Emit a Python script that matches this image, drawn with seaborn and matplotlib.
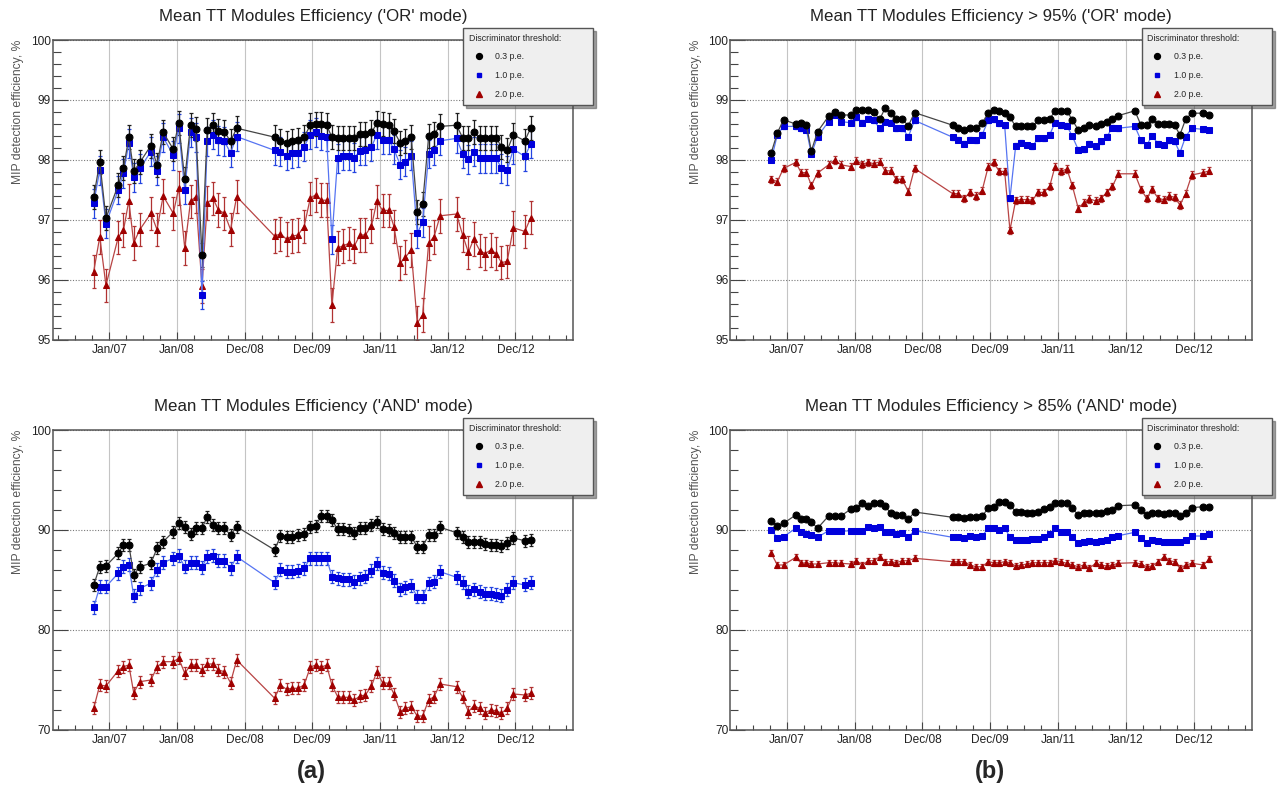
import matplotlib
matplotlib.use("Agg")
import matplotlib.pyplot as plt
from matplotlib.lines import Line2D
from matplotlib.ticker import FixedLocator, MultipleLocator, AutoMinorLocator
import seaborn as sns

dates = [2006.771, 2006.861, 2006.952, 2007.133, 2007.211, 2007.290, 2007.362, 2007.453,
         2007.616, 2007.706, 2007.797, 2007.947, 2008.026, 2008.116, 2008.201, 2008.279,
         2008.370, 2008.448, 2008.533, 2008.611, 2008.702, 2008.792, 2008.883,
         2009.444, 2009.529, 2009.619, 2009.698, 2009.788, 2009.879, 2009.969, 2010.048,
         2010.132, 2010.211, 2010.289, 2010.374, 2010.452, 2010.543, 2010.621, 2010.705,
         2010.784, 2010.874, 2010.953, 2011.037, 2011.128, 2011.206, 2011.297, 2011.375,
         2011.460, 2011.550, 2011.629, 2011.719, 2011.798, 2011.888, 2012.130, 2012.220,
         2012.305, 2012.383, 2012.474, 2012.552, 2012.637, 2012.715, 2012.794, 2012.878,
         2012.969, 2013.138, 2013.228]

xtick_pos = [2007, 2008, 2009, 2010, 2011, 2012, 2013]
xtick_labels = ["Jan/07", "Jan/08", "Dec/08", "Dec/09", "Jan/11", "Jan/12", "Dec/12"]
thresholds = ["0.3 p.e.", "1.0 p.e.", "2.0 p.e."]

# ('OR' mode)
or_03 = [97.38, 97.97, 97.03, 97.58, 97.86, 98.38, 97.81, 97.96, 98.24, 97.92, 98.46, 98.18,
         98.62, 97.68, 98.59, 98.52, 96.42, 98.50, 98.58, 98.49, 98.47, 98.31, 98.53,
         98.38, 98.32, 98.29, 98.32, 98.34, 98.38, 98.58, 98.60, 98.60, 98.58, 98.38, 98.37,
         98.37, 98.37, 98.37, 98.44, 98.44, 98.46, 98.61, 98.60, 98.59, 98.48, 98.29, 98.31,
         98.39, 97.14, 97.27, 98.40, 98.44, 98.56, 98.58, 98.37, 98.37, 98.46, 98.37, 98.37,
         98.37, 98.37, 98.22, 98.16, 98.42, 98.32, 98.54]
or_10 = [97.28, 97.83, 96.94, 97.50, 97.78, 98.28, 97.71, 97.86, 98.14, 97.82, 98.38, 98.08,
         98.53, 97.50, 98.46, 98.38, 95.75, 98.31, 98.42, 98.33, 98.31, 98.12, 98.39,
         98.16, 98.14, 98.07, 98.11, 98.12, 98.22, 98.42, 98.46, 98.40, 98.39, 96.68, 98.03,
         98.07, 98.07, 98.04, 98.15, 98.16, 98.22, 98.42, 98.34, 98.34, 98.18, 97.92, 97.97,
         98.07, 96.78, 96.96, 98.10, 98.16, 98.32, 98.36, 98.10, 98.01, 98.14, 98.03, 98.03,
         98.03, 98.03, 97.86, 97.83, 98.18, 98.06, 98.27]
or_20 = [96.14, 96.72, 95.91, 96.71, 96.83, 97.32, 96.62, 96.84, 97.11, 96.84, 97.40, 97.11,
         97.53, 96.53, 97.31, 97.39, 95.90, 97.28, 97.36, 97.17, 97.11, 96.84, 97.39,
         96.73, 96.77, 96.68, 96.73, 96.75, 96.89, 97.36, 97.42, 97.33, 97.33, 95.58, 96.53,
         96.57, 96.61, 96.57, 96.75, 96.75, 96.90, 97.31, 97.16, 97.16, 96.89, 96.28, 96.38,
         96.50, 95.28, 95.42, 96.62, 96.72, 97.07, 97.10, 96.75, 96.46, 96.68, 96.49, 96.44,
         96.50, 96.44, 96.29, 96.31, 96.87, 96.81, 97.04]
or_err = [0.20, 0.24, 0.28]

# > 95% ('OR' mode)
or95_03 = [98.12, 98.45, 98.67, 98.60, 98.62, 98.58, 98.15, 98.47, 98.73, 98.80, 98.75, 98.75,
           98.84, 98.84, 98.83, 98.80, 98.68, 98.86, 98.79, 98.68, 98.68, 98.57, 98.79,
           98.58, 98.53, 98.50, 98.54, 98.54, 98.61, 98.79, 98.83, 98.82, 98.79, 98.71, 98.56,
           98.56, 98.56, 98.56, 98.66, 98.66, 98.68, 98.82, 98.82, 98.82, 98.67, 98.50, 98.53,
           98.58, 98.56, 98.60, 98.64, 98.69, 98.74, 98.82, 98.58, 98.58, 98.68, 98.60, 98.60,
           98.60, 98.58, 98.42, 98.68, 98.78, 98.78, 98.75]
or95_10 = [98.00, 98.42, 98.56, 98.56, 98.53, 98.50, 98.10, 98.39, 98.64, 98.75, 98.64, 98.62,
           98.71, 98.62, 98.69, 98.66, 98.53, 98.64, 98.62, 98.53, 98.53, 98.39, 98.66,
           98.38, 98.34, 98.27, 98.34, 98.33, 98.42, 98.66, 98.68, 98.61, 98.58, 97.36, 98.24,
           98.29, 98.25, 98.23, 98.36, 98.36, 98.42, 98.62, 98.58, 98.57, 98.40, 98.17, 98.18,
           98.27, 98.23, 98.31, 98.39, 98.54, 98.53, 98.56, 98.33, 98.25, 98.40, 98.27, 98.25,
           98.33, 98.31, 98.12, 98.39, 98.53, 98.51, 98.50]
or95_20 = [97.68, 97.64, 97.86, 97.96, 97.79, 97.79, 97.58, 97.78, 97.92, 98.00, 97.92, 97.89,
           97.99, 97.93, 97.96, 97.94, 97.97, 97.82, 97.82, 97.68, 97.68, 97.47, 97.86,
           97.44, 97.44, 97.36, 97.46, 97.40, 97.49, 97.89, 97.96, 97.81, 97.81, 96.83, 97.33,
           97.34, 97.34, 97.33, 97.46, 97.46, 97.56, 97.89, 97.81, 97.85, 97.58, 97.19, 97.29,
           97.35, 97.32, 97.36, 97.46, 97.56, 97.77, 97.77, 97.51, 97.36, 97.51, 97.36, 97.34,
           97.40, 97.38, 97.25, 97.44, 97.75, 97.79, 97.82]
or95_err = [0.03, 0.04, 0.06]

# ('AND' mode)
and_03 = [84.50, 86.33, 86.40, 87.67, 88.50, 88.50, 85.50, 86.33, 86.67, 88.17, 88.83, 89.83,
          90.73, 90.27, 89.60, 90.17, 90.17, 91.33, 90.50, 90.17, 90.17, 89.50, 90.33,
          88.00, 89.40, 89.33, 89.27, 89.50, 89.60, 90.33, 90.40, 91.40, 91.40, 91.00, 90.07,
          90.07, 90.00, 89.73, 90.17, 90.17, 90.50, 90.83, 90.07, 90.00, 89.67, 89.27, 89.33,
          89.33, 88.33, 88.33, 89.50, 89.50, 90.27, 89.73, 89.33, 88.83, 88.83, 88.83, 88.60,
          88.50, 88.50, 88.40, 88.70, 89.20, 88.93, 89.00]
and_10 = [82.27, 84.33, 84.33, 85.67, 86.33, 86.50, 83.40, 84.17, 84.67, 86.00, 86.73, 87.17,
          87.40, 86.33, 86.73, 86.73, 86.27, 87.33, 87.40, 86.93, 86.93, 86.17, 87.33,
          84.73, 86.00, 85.83, 85.83, 85.90, 86.17, 87.17, 87.17, 87.17, 87.17, 85.33, 85.17,
          85.07, 85.07, 84.83, 85.17, 85.33, 85.93, 86.60, 85.73, 85.60, 84.93, 84.07, 84.27,
          84.40, 83.33, 83.33, 84.67, 84.83, 85.83, 85.27, 84.73, 83.83, 84.07, 83.83, 83.60,
          83.60, 83.50, 83.40, 84.00, 84.73, 84.50, 84.73]
and_20 = [72.17, 74.50, 74.40, 75.93, 76.33, 76.50, 73.73, 74.83, 75.00, 76.27, 76.83, 76.83,
          77.17, 75.67, 76.50, 76.50, 76.00, 76.60, 76.60, 76.00, 75.83, 74.73, 77.00,
          73.17, 74.50, 74.07, 74.17, 74.17, 74.50, 76.27, 76.50, 76.27, 76.50, 74.50, 73.33,
          73.27, 73.27, 73.00, 73.40, 73.50, 74.40, 75.83, 74.73, 74.67, 73.60, 71.83, 72.17,
          72.33, 71.40, 71.40, 73.00, 73.33, 74.60, 74.33, 73.27, 71.83, 72.40, 72.17, 71.73,
          72.00, 71.93, 71.67, 72.17, 73.60, 73.50, 73.67]
and_err = [0.60, 0.65, 0.60]

# > 85% ('AND' mode)
and85_03 = [90.93, 90.40, 90.67, 91.50, 91.07, 91.07, 90.83, 90.17, 91.40, 91.40, 91.40, 92.10,
            92.17, 92.73, 92.40, 92.67, 92.73, 92.40, 91.67, 91.50, 91.50, 91.07, 91.80,
            91.27, 91.27, 91.20, 91.27, 91.27, 91.40, 92.17, 92.33, 92.83, 92.83, 92.50, 91.83,
            91.83, 91.73, 91.73, 91.83, 92.07, 92.27, 92.73, 92.67, 92.67, 92.17, 91.50, 91.67,
            91.73, 91.67, 91.73, 91.93, 92.00, 92.43, 92.50, 92.00, 91.50, 91.73, 91.73, 91.60,
            91.67, 91.67, 91.40, 91.73, 92.23, 92.33, 92.27]
and85_10 = [90.00, 89.23, 89.33, 90.17, 89.77, 89.60, 89.50, 89.27, 89.93, 89.93, 89.87, 89.93,
            89.93, 89.93, 90.27, 90.20, 90.33, 89.83, 89.83, 89.60, 89.73, 89.33, 89.93,
            89.27, 89.33, 89.17, 89.40, 89.33, 89.40, 90.17, 90.17, 90.00, 90.23, 89.27, 89.00,
            89.00, 89.00, 89.07, 89.07, 89.33, 89.60, 90.23, 89.83, 89.83, 89.33, 88.73, 88.83,
            88.93, 88.83, 88.93, 89.00, 89.27, 89.43, 89.77, 89.17, 88.73, 89.00, 88.93, 88.83,
            88.83, 88.83, 88.83, 89.00, 89.40, 89.40, 89.60]
and85_20 = [87.67, 86.50, 86.50, 87.27, 86.67, 86.73, 86.60, 86.60, 86.73, 86.73, 86.67, 86.60,
            86.93, 86.50, 86.93, 86.93, 87.33, 86.83, 86.83, 86.73, 86.93, 86.93, 87.17,
            86.83, 86.83, 86.83, 86.50, 86.33, 86.33, 86.83, 86.73, 86.73, 86.83, 86.73, 86.40,
            86.50, 86.60, 86.73, 86.73, 86.73, 86.73, 86.93, 86.83, 86.67, 86.50, 86.33, 86.50,
            86.17, 86.67, 86.50, 86.40, 86.50, 86.67, 86.73, 86.60, 86.33, 86.40, 86.83, 87.27,
            86.93, 86.83, 86.17, 86.50, 86.67, 86.50, 87.07]
and85_err = [0.12, 0.15, 0.30]

# marker, size, marker colour, line colour, error colour
styles = [("o", 5.0, "#000000", "#454545", "#1e1e1e"),
          ("s", 4.2, "#0000dc", "#5674f2", "#2444e0"),
          ("^", 4.6, "#a00000", "#b84444", "#b03232")]

sns.set_theme(style="white")
plt.rcParams["font.family"] = ["Liberation Sans", "DejaVu Sans"]

fig = plt.figure(figsize=(12.77, 7.89), dpi=100)


def draw_panel(rect, title, series, errs, ylim, ymajor, leg_box):
    ax = fig.add_axes(rect)
    for vals, err, st in reversed(list(zip(series, errs, styles))):
        mk, ms, mc, lc, ec = st
        ax.errorbar(dates, vals, yerr=err, fmt="none", ecolor=ec, elinewidth=0.9,
                    capsize=1.6, capthick=0.9, zorder=2)
        sns.lineplot(x=dates, y=vals, ax=ax, color=lc, lw=0.9, marker=mk, markersize=ms,
                     markerfacecolor=mc, markeredgecolor=mc, legend=False, zorder=3)
    ax.set_xlim(2006.17, 2013.85)
    ax.set_ylim(*ylim)
    ax.xaxis.set_major_locator(FixedLocator(xtick_pos))
    ax.set_xticklabels(xtick_labels)
    ax.xaxis.set_minor_locator(MultipleLocator(0.25))
    ax.yaxis.set_major_locator(MultipleLocator(ymajor))
    ax.yaxis.set_minor_locator(AutoMinorLocator(5))
    ax.tick_params(which="both", direction="in", bottom=True, left=True, top=False,
                   right=False, color="#444", labelcolor="#222", labelsize=8.6)
    ax.tick_params(axis="x", which="major", length=6, width=0.8, pad=3)
    ax.tick_params(axis="x", which="minor", length=3.6, width=0.8)
    ax.tick_params(axis="y", which="major", length=11, width=0.8, pad=1.5)
    ax.tick_params(axis="y", which="minor", length=6, width=0.8)
    ax.grid(axis="x", which="major", color="#c4c4c4", lw=0.8, ls="-")
    ax.grid(axis="y", which="major", color="#7a7a7a", lw=0.8, ls=(0, (1, 1.5)))
    for sp in ax.spines.values():
        sp.set_color("#555555")
        sp.set_linewidth(1.1)
    ax.set_xlabel("")
    ax.set_title(title, fontsize=12.2, pad=13.5, color="#222222")
    ax.set_ylabel("MIP detection efficiency, %", fontsize=8.7, color="#555555", loc="top")
    ax.yaxis.set_label_coords(-0.055, 1.0)

    handles = [Line2D([], [], ls="none", marker=st[0], markersize=st[1] * 0.85,
                      color=st[2]) for st in styles]
    leg = ax.legend(handles, thresholds, title="Discriminator threshold:", loc="upper left",
                    bbox_to_anchor=leg_box, bbox_transform=fig.transFigure, mode="expand",
                    alignment="left", fontsize=6.3, title_fontsize=6.3, frameon=True,
                    fancybox=False, shadow=True, framealpha=1, borderpad=0.65,
                    labelspacing=1.12, handlelength=2.3, handletextpad=0.7,
                    borderaxespad=0)
    leg.get_frame().set_facecolor("#efefef")
    leg.get_frame().set_edgecolor("#555555")
    leg.get_frame().set_linewidth(1.0)
    return ax


left_x, left_w = 0.0415, 0.4072
right_x, right_w = 0.5720, 0.4081
top_y, bot_y, h = 0.5691, 0.0748, 0.3802

draw_panel([left_x, top_y, left_w, h], "Mean TT Modules Efficiency ('OR' mode)",
           [or_03, or_10, or_20], or_err, (95, 100), 1,
           (0.3626, 0.50, 0.1017, 0.4645))
draw_panel([right_x, top_y, right_w, h], "Mean TT Modules Efficiency > 95% ('OR' mode)",
           [or95_03, or95_10, or95_20], or95_err, (95, 100), 1,
           (0.8940, 0.50, 0.1021, 0.4645))
draw_panel([left_x, bot_y, left_w, h], "Mean TT Modules Efficiency ('AND' mode)",
           [and_03, and_10, and_20], and_err, (70, 100), 10,
           (0.3626, 0.10, 0.1017, 0.3702))
draw_panel([right_x, bot_y, right_w, h], "Mean TT Modules Efficiency > 85% ('AND' mode)",
           [and85_03, and85_10, and85_20], and85_err, (70, 100), 10,
           (0.8940, 0.10, 0.1021, 0.3702))

fig.text(0.2435, 0.0228, "(a)", fontsize=17, fontweight="bold", ha="center", va="center")
fig.text(0.7753, 0.0228, "(b)", fontsize=17, fontweight="bold", ha="center", va="center")

fig.savefig("out.png", dpi=100)
plt.close(fig)
